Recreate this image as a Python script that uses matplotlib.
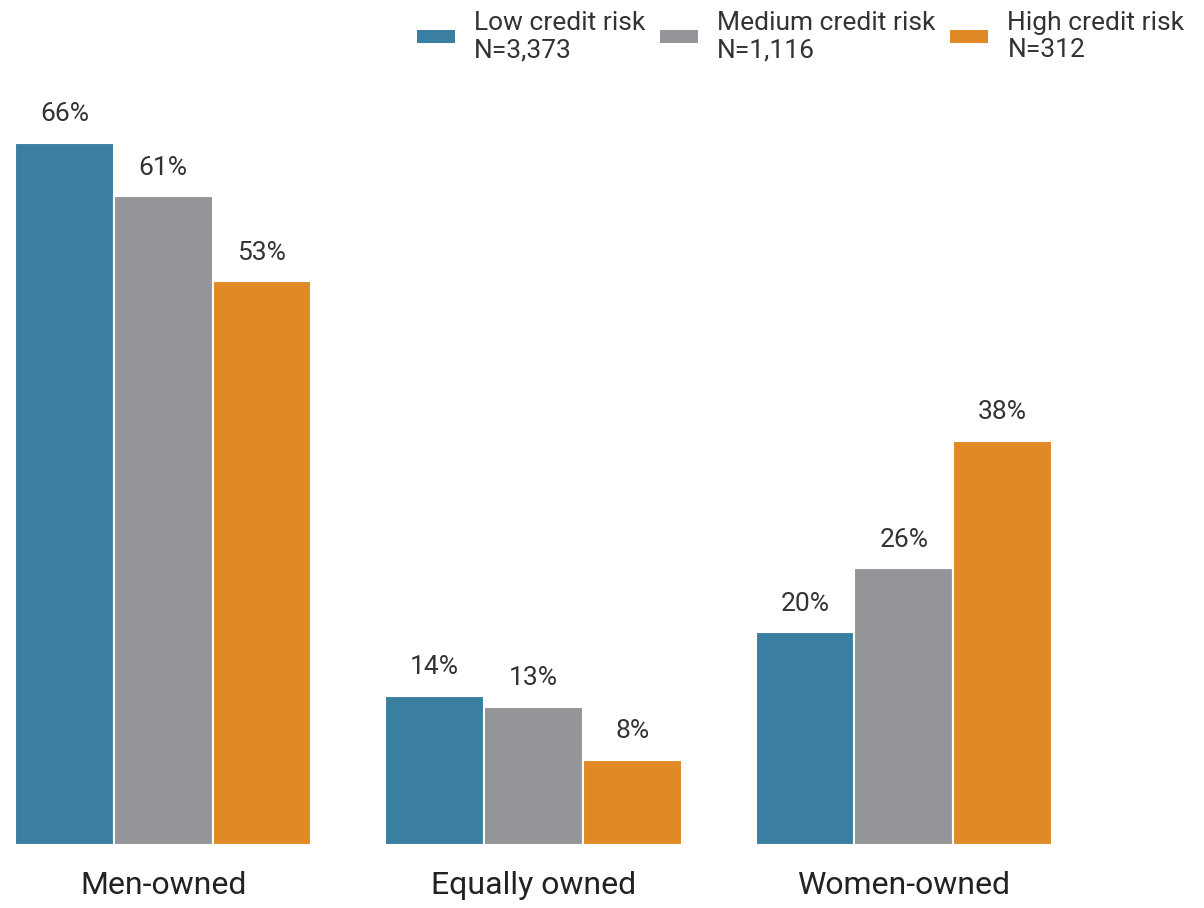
import matplotlib
matplotlib.use("Agg")
import matplotlib.pyplot as plt
import numpy as np

categories = ["Men-owned", "Equally owned", "Women-owned"]
series_names = ["Low credit risk\nN=3,373", "Medium credit risk\nN=1,116", "High credit risk\nN=312"]
low = [66, 14, 20]
medium = [61, 13, 26]
high = [53, 8, 38]
colors = ["#3a7ea1", "#939598", "#e08a26"]

plt.rcParams['font.family'] = ['Roboto', 'DejaVu Sans']
text_color = "#333333"

fig = plt.figure(figsize=(12.04, 9.08), dpi=100)
ax = fig.add_axes([15/1204, 63/908, (1052-15)/1204, (845-143)/908])

centers = np.arange(len(categories)) * 3.75
offsets = [-1, 0, 1]
for vals, off, c, name in zip([low, medium, high], offsets, colors, series_names):
    bars = ax.bar(centers + off, vals, width=1.0, color=c, edgecolor="white", linewidth=1.5, label=name)
    for b, v in zip(bars, vals):
        ax.annotate(f"{v}%", (b.get_x() + b.get_width()/2, v), xytext=(0, 12),
                    textcoords="offset points", ha="center", va="bottom",
                    fontsize=19, color=text_color)

ax.set_xlim(-1.5, centers[-1] + 1.5)
ax.set_ylim(0, 66)
ax.set_xticks(centers)
ax.set_xticklabels(categories, fontsize=23, color="#222222")
ax.tick_params(axis="x", length=0, pad=18.5)
ax.set_yticks([])
for s in ax.spines.values():
    s.set_visible(False)

leg = fig.legend(loc="upper right", bbox_to_anchor=(1195/1204, 1), ncol=3,
                 frameon=False, handlelength=1.44, handleheight=0.4,
                 handletextpad=0.72, columnspacing=0.57, labelcolor=text_color,
                 borderaxespad=0, prop={'size': 19})
for h in leg.legend_handles:
    h.set_linewidth(0)

fig.savefig("out.png", dpi=100)
